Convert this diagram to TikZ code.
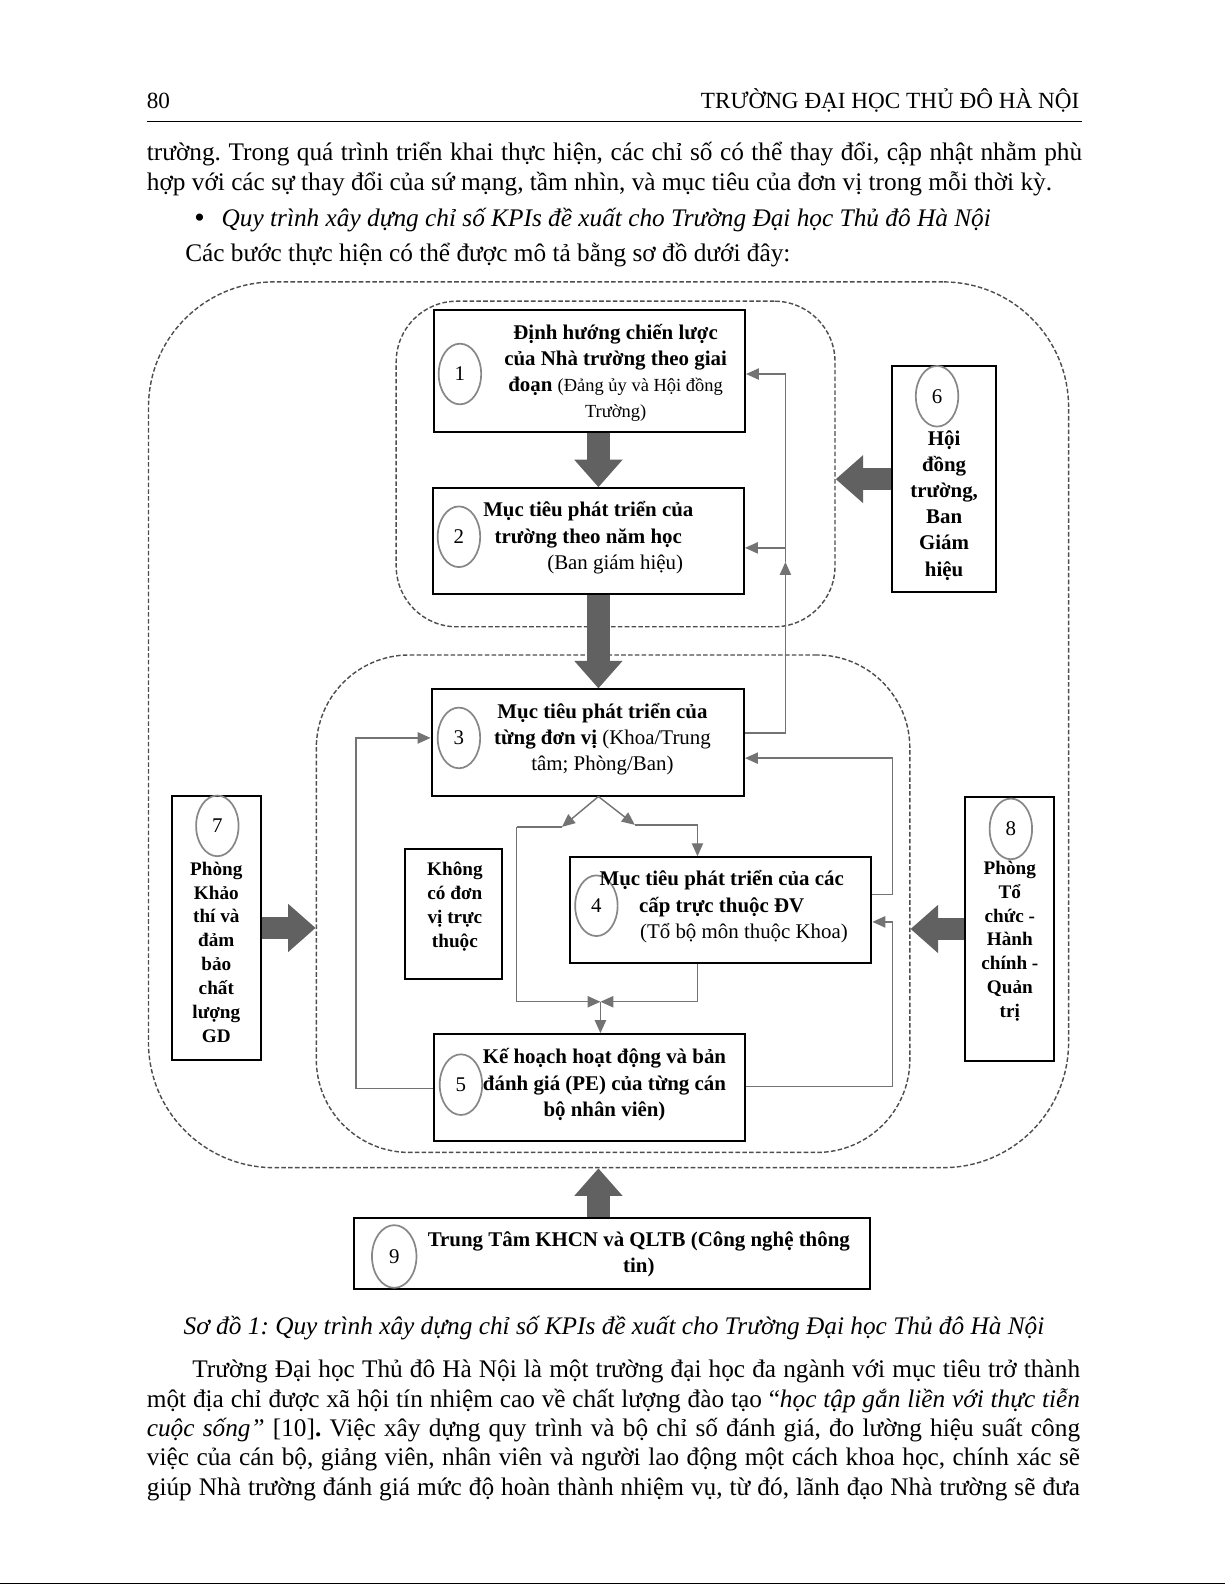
\documentclass[tikz,border=0pt]{standalone}
\usepackage{fontspec}
\setmainfont{Liberation Serif}
\usetikzlibrary{arrows.meta,shapes.geometric}
\frenchspacing

\definecolor{wiregray}{HTML}{737373}
\definecolor{dashgray}{HTML}{4D4D4D}
\definecolor{arrowgray}{HTML}{616161}
\definecolor{ringgray}{HTML}{878787}

\newcommand{\headfont}{\fontsize{16.3}{20}\selectfont}
\newcommand{\bodyfont}{\fontsize{17.8}{21}\selectfont}
\newcommand{\boxfont}{\fontsize{14.7}{18.4}\selectfont}
\newcommand{\sidefont}{\fontsize{13.5}{16.8}\selectfont}

\begin{document}
\begin{tikzpicture}[
        x=0.025cm, y=-0.025cm,
        box/.style={draw, line width=1.4pt, fill=white, inner sep=0pt},
        txt/.style={align=center, inner sep=0pt, font=\boxfont\bfseries},
        sidetxt/.style={align=center, inner sep=0pt, font=\sidefont\bfseries},
        num/.style={ellipse, draw=ringgray, line width=1.2pt, minimum width=1.05cm,
                    minimum height=1.5cm, inner sep=0pt, font=\boxfont},
        wire/.style={draw=wiregray, line width=1pt},
        conn/.style={wire, -{Triangle[length=0.32cm,width=0.28cm]}},
        region/.style={draw=dashgray, line width=1pt, dash pattern=on 3.2pt off 1.6pt, inner sep=0pt},
        bigarrow/.style={draw=arrowgray, line width=0.55cm, -{Triangle[length=0.68cm,width=1.15cm]}},
        para/.style={anchor=base west, inner sep=0pt, font=\bodyfont}
    ]
    \useasboundingbox (0,0) rectangle (1212,1568);

    % Page head
    \node[para, font=\headfont] (pageno) at (145,107) {80};
    \node[para, font=\headfont, anchor=base east] (head) at (1068,107) {TRƯỜNG ĐẠI HỌC THỦ ĐÔ HÀ NỘI};
    \draw[line width=0.9pt] (145,120) -- (1070,120);

    % Text above the diagram
    \node[para] (p1) at (145,159) {\makebox[23.125cm][s]{trường. Trong quá trình triển khai thực hiện, các chỉ số có thể thay đổi, cập nhật nhằm phù}};
    \node[para] (p2) at (145,188) {hợp với các sự thay đổi của sứ mạng, tầm nhìn, và mục tiêu của đơn vị trong mỗi thời kỳ.};
    \node[para, font=\fontsize{21}{21}\selectfont] (dot) at (192,225) {\textbullet};
    \node[para] (p3) at (219,224) {\itshape Quy trình xây dựng chỉ số KPIs đề xuất cho Trường Đại học Thủ đô Hà Nội};
    \node[para] (p4) at (183,259) {Các bước thực hiện có thể được mô tả bằng sơ đồ dưới đây:};

    % Dashed regions
    \node[region, rounded corners=3.1cm, minimum width=22.75cm, minimum height=21.9cm] (outer) at (602,717) {};
    \node[region, rounded corners=1.5cm, minimum width=10.85cm, minimum height=8.05cm] (top) at (609,459) {};
    \node[region, rounded corners=2.3cm, minimum width=14.675cm, minimum height=12.3cm] (inner) at (606.5,894) {};

    % Box 1
    \node[box, minimum width=7.7cm, minimum height=3cm] (b1) at (583,367) {};
    \node[num] (n1) at (455,370) {1};
    \node[txt] (t1) at (609,369) {Định hướng chiến lược\\của Nhà trường theo giai\\đoạn {\mdseries\fontsize{13}{18.4}\selectfont (Đảng ủy và Hội đồng}\\{\mdseries\fontsize{13}{18.4}\selectfont Trường)}};

    % Box 2
    \node[box, minimum width=7.7cm, minimum height=2.625cm] (b2) at (582,535.5) {};
    \node[num] (n2) at (454,531) {2};
    \node[txt] (t2) at (582,532) {Mục tiêu phát triển của\\trường theo năm học\\\hspace*{1.33cm}\mdseries(Ban giám hiệu)};

    % Box 3
    \node[box, minimum width=7.725cm, minimum height=2.625cm] (b3) at (581.5,734.5) {};
    \node[num] (n3) at (454,730) {3};
    \node[txt] (t3) at (596,731) {Mục tiêu phát triển của\\từng đơn vị {\mdseries(Khoa/Trung}\\{\mdseries tâm; Phòng/Ban)}};

    % Box 4
    \node[box, minimum width=7.45cm, minimum height=2.625cm] (b4) at (713,900.5) {};
    \node[num] (n4) at (590,896) {4};
    \node[txt] (t4) at (714,897) {Mục tiêu phát triển của các\\cấp trực thuộc ĐV\\\hspace*{1.1cm}\mdseries(Tổ bộ môn thuộc Khoa)};

    % Box 5
    \node[box, minimum width=7.7cm, minimum height=2.65cm] (b5) at (583,1076) {};
    \node[num] (n5) at (456,1073) {5};
    \node[txt] (t5) at (598,1073) {Kế hoạch hoạt động và bản\\đánh giá (PE) của từng cán\\bộ nhân viên)};

    % No sub-units
    \node[box, minimum width=2.4cm, minimum height=3.2cm] (bk) at (449,904) {};
    \node[sidetxt] (tk) at (450,897) {Không\\có đơn\\vị trực\\thuộc};

    % Side boxes
    \node[box, minimum width=2.575cm, minimum height=5.6cm] (b6) at (933.5,474) {};
    \node[num] (n6) at (927,392) {6};
    \node[txt] (t6) at (934,500) {Hội\\đồng\\trường,\\Ban\\Giám\\hiệu};

    \node[box, minimum width=2.2cm, minimum height=6.55cm] (b7) at (214,918) {};
    \node[num] (n7) at (215,817) {7};
    \node[sidetxt] (t7) at (214,942) {Phòng\\Khảo\\thí và\\đảm\\bảo\\chất\\lượng\\GD};

    \node[box, minimum width=2.2cm, minimum height=6.55cm] (b8) at (999,919) {};
    \node[num] (n8) at (1000,820) {8};
    \node[sidetxt] (t8) at (999,931) {Phòng\\Tổ\\chức -\\Hành\\chính -\\Quản\\trị};

    % Box 9
    \node[box, minimum width=12.775cm, minimum height=1.75cm] (b9) at (605.5,1240) {};
    \node[num, minimum width=1.1cm, minimum height=1.55cm] (n9) at (390,1243) {9};
    \node[txt] (t9) at (632,1241) {Trung Tâm KHCN và QLTB (Công nghệ thông\\tin)};

    % Thick arrows
    \coordinate (axis) at (592,0);
    \draw[bigarrow] (b1.south -| axis) -- (b2.north -| axis);
    \draw[bigarrow] (b2.south -| axis) -- (b3.north -| axis);
    \draw[bigarrow] (b9.north -| axis) -- (outer.south -| axis);
    \draw[bigarrow] (b6.west) -- (b6.west -| top.east);
    \draw[bigarrow] (b7.east) -- (b7.east -| inner.west);
    \draw[bigarrow] (b8.west) -- (b8.west -| inner.east);

    % Feedback 3 -> 2, 1
    \coordinate (k1) at (777,370);
    \coordinate (k2) at (777,542);
    \coordinate (kup) at (777,556);
    \coordinate (k3) at (777,725);
    \draw[conn] (b3.east |- k3) -- (k3) -- (kup);
    \draw[conn] (kup) -- (k1) -- (b1.east |- k1);
    \draw[conn] (k2) -- (b2.east |- k2);

    % Feedback 4 -> 3 and 5 -> 4
    \coordinate (m1) at (883,885);
    \coordinate (m2) at (883,750);
    \draw[conn] (b4.east |- m1) -- (m1) -- (m2) -- (b3.east |- m2);
    \coordinate (r1) at (883,1075);
    \coordinate (r2) at (883,912);
    \draw[conn] (b5.east |- r1) -- (r1) -- (r2) -- (b4.east |- r2);

    % Feedback 5 -> 3
    \coordinate (q1) at (352,1077);
    \coordinate (q2) at (352,730);
    \draw[conn] (b5.west |- q1) -- (q1) -- (q2) -- (b3.west |- q2);

    % Split below 3 and join above 5
    \coordinate (sl) at (556,818);
    \coordinate (sr) at (628,816);
    \coordinate (wl) at (511,818);
    \coordinate (wr) at (690,816);
    \coordinate (jl) at (511,991);
    \coordinate (jr) at (690,991);
    \coordinate (j) at (594,991);
    \draw[conn] (b3.south -| axis) -- (sl);
    \draw[conn] (b3.south -| axis) -- (sr);
    \draw[wire] (sl) -- (wl);
    \draw[conn] (wl) -- (jl) -- (j);
    \draw[conn] (sr) -- (wr) -- (b4.north -| wr);
    \draw[conn] (b4.south -| wr) -- (jr) -- (j);
    \draw[conn] (j) -- (b5.north -| j);

    % Caption and text below
    \node[para, anchor=base] (cap) at (607.5,1320) {\itshape Sơ đồ 1: Quy trình xây dựng chỉ số KPIs đề xuất cho Trường Đại học Thủ đô Hà Nội};
    \node[para] (q1t) at (190,1363) {\makebox[21.95cm][s]{Trường Đại học Thủ đô Hà Nội là một trường đại học đa ngành với mục tiêu trở thành}};
    \node[para] (q2t) at (145,1392) {\makebox[23.075cm][s]{một địa chỉ được xã hội tín nhiệm cao về chất lượng đào tạo “\textit{học tập gắn liền với thực tiễn}}};
    \node[para] (q3t) at (145,1421) {\makebox[23.075cm][s]{\textit{cuộc sống”} [10]\textbf{.} Việc xây dựng quy trình và bộ chỉ số đánh giá, đo lường hiệu suất công}};
    \node[para] (q4t) at (145,1450) {\makebox[23.075cm][s]{việc của cán bộ, giảng viên, nhân viên và người lao động một cách khoa học, chính xác sẽ}};
    \node[para] (q5t) at (145,1479) {\makebox[23.075cm][s]{giúp Nhà trường đánh giá mức độ hoàn thành nhiệm vụ, từ đó, lãnh đạo Nhà trường sẽ đưa}};
    \draw[line width=1.2pt] (0,1566.5) -- (1212,1566.5);
\end{tikzpicture}
\end{document}
